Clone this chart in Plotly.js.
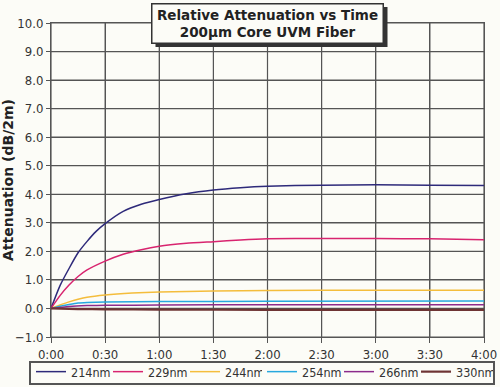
<!DOCTYPE html>
<html><head><meta charset="utf-8">
<script src="https://cdn.plot.ly/plotly-3.0.1.min.js"></script>
</head><body style="margin:0;padding:0;">
<div id="chart" style="width:500px;height:387px;"></div>
<script>
// time in minutes
const t214 = [0,5,10,15,20,25,30,40,50,60,75,90,105,120,150,180,210,240];
const v214 = [0,0.8,1.4,1.95,2.35,2.7,2.97,3.4,3.65,3.82,4.02,4.15,4.23,4.28,4.32,4.33,4.32,4.31];
const t229 = [0,5,10,15,20,30,40,50,60,75,90,105,120,150,180,210,240];
const v229 = [0,0.45,0.82,1.12,1.35,1.66,1.9,2.06,2.18,2.28,2.34,2.4,2.44,2.45,2.45,2.44,2.41];
const t244 = [0,5,10,15,20,30,45,60,90,120,180,240];
const v244 = [0,0.12,0.23,0.32,0.39,0.47,0.54,0.58,0.61,0.63,0.64,0.64];
const t254 = [0,5,10,15,20,30,60,120,240];
const v254 = [0,0.08,0.14,0.19,0.21,0.23,0.24,0.25,0.26];
const t266 = [0,10,20,30,60,120,240];
const v266 = [0,0.07,0.1,0.11,0.12,0.13,0.13];
const t330 = [0,15,30,60,120,240];
const v330 = [0,-0.02,-0.03,-0.04,-0.05,-0.05];
const seriesNames = ["214nm","229nm","244nm","254nm","266nm","330nm"];
const xTickVals = [0,30,60,90,120,150,180,210,240];
const xTickText = ["0:00","0:30","1:00","1:30","2:00","2:30","3:00","3:30","4:00"];
const yTickVals = [-1,0,1,2,3,4,5,6,7,8,9,10];
const titleLines = ["Relative Attenuation vs Time","200µm Core UVM Fiber"];

const xRange = [xTickVals[0], xTickVals[xTickVals.length-1]];
const yRange = [yTickVals[0], yTickVals[yTickVals.length-1]];
const gridColor = '#555555';
const gx = [], gy = [];
xTickVals.forEach(v=>{ gx.push(v,v,null); gy.push(yRange[0],yRange[1],null); });
yTickVals.forEach(v=>{ gx.push(xRange[0],xRange[1],null); gy.push(v,v,null); });
const gridTrace = {x:gx, y:gy, type:'scatter', mode:'lines', showlegend:false, hoverinfo:'skip',
  line:{color:gridColor, width:1.2}, connectgaps:false};

const colors = ["#2e2a7a","#d8246f","#f4bd3c","#27a8de","#8c2b8c","#6e3434"];
const widths = [1.5,1.5,1.5,1.5,1.5,2.2];
const xs = [t214,t229,t244,t254,t266,t330];
const ys = [v214,v229,v244,v254,v266,v330];
const traces = [gridTrace].concat(seriesNames.map((n,i)=>({
  x: xs[i], y: ys[i], name: n, type:'scatter', mode:'lines',
  legend: i < 3 ? 'legend' : 'legend2',
  line:{color:colors[i], width:widths[i], shape:'spline', smoothing:0.6}
})));
const font = "DejaVu Sans Condensed, DejaVu Sans, sans-serif";
const tfont = "DejaVu Sans, sans-serif";
const titleText = titleLines.join("<br>");
const legendBase = {orientation:'h', xref:'container', yref:'container', xanchor:'left', y:0.0775, yanchor:'top',
    borderwidth:0, bgcolor:'rgba(0,0,0,0)',
    font:{family:font, size:12.5, color:'#333'}, itemwidth:30,
    entrywidth:32, entrywidthmode:'pixels'};
const layout = {
  width:500, height:387,
  margin:{l:51, r:16, t:23, b:50, autoexpand:false},
  paper_bgcolor:"#fcfcf7", plot_bgcolor:"#fcfcf7",
  font:{family:font, size:13, color:"#333"},
  showlegend:true,
  legend: Object.assign({}, legendBase, {x:0.062}),
  legend2: Object.assign({}, legendBase, {x:0.524}),
  xaxis:{range:xRange, tickvals:xTickVals, ticktext:xTickText,
    showgrid:true, gridcolor:gridColor, gridwidth:1, zeroline:false,
    ticks:'outside', ticklen:5, tickcolor:'#555',
    showline:true, linecolor:'#555', mirror:true,
    tickfont:{family:font, size:13, color:'#333'}},
  yaxis:{range:yRange, tickvals:yTickVals, tickformat:'.1f',
    showgrid:true, gridcolor:gridColor, gridwidth:1, zeroline:false,
    ticks:'outside', ticklen:4, tickcolor:'#555',
    showline:true, linecolor:'#555', mirror:true,
    title:{text:'Attenuation (dB/2m)', font:{family:tfont, size:14, color:'#222', weight:'bold'}, standoff:6},
    tickfont:{family:font, size:13, color:'#333'}},
  shapes: [
    {type:'rect', xref:'paper', yref:'paper', xsizemode:'pixel', ysizemode:'pixel',
     xanchor:0.5, yanchor:1.064, x0:-112, x1:120, y0:-44, y1:-4,
     fillcolor:'#333', line:{width:0}, layer:'above'},
    {type:'rect', xref:'paper', yref:'paper', xsizemode:'pixel', ysizemode:'pixel',
     xanchor:0, yanchor:0, x0:-21, x1:443, y0:-47, y1:-25,
     fillcolor:'rgba(0,0,0,0)', line:{width:2, color:'#555'}, layer:'above'}
  ],
  annotations:[
    {xref:'paper', yref:'paper', x:0.5, y:1.064, xanchor:'center', yanchor:'top',
     text:titleText, showarrow:false, width:228, height:36,
     bgcolor:'#fcfcf7', bordercolor:'#333', borderwidth:1.5,
     font:{family:tfont, size:13.5, color:'#222', weight:'bold'}}
  ]
};
Plotly.newPlot('chart', traces, layout, {displayModeBar:false});
</script>
</body></html>
